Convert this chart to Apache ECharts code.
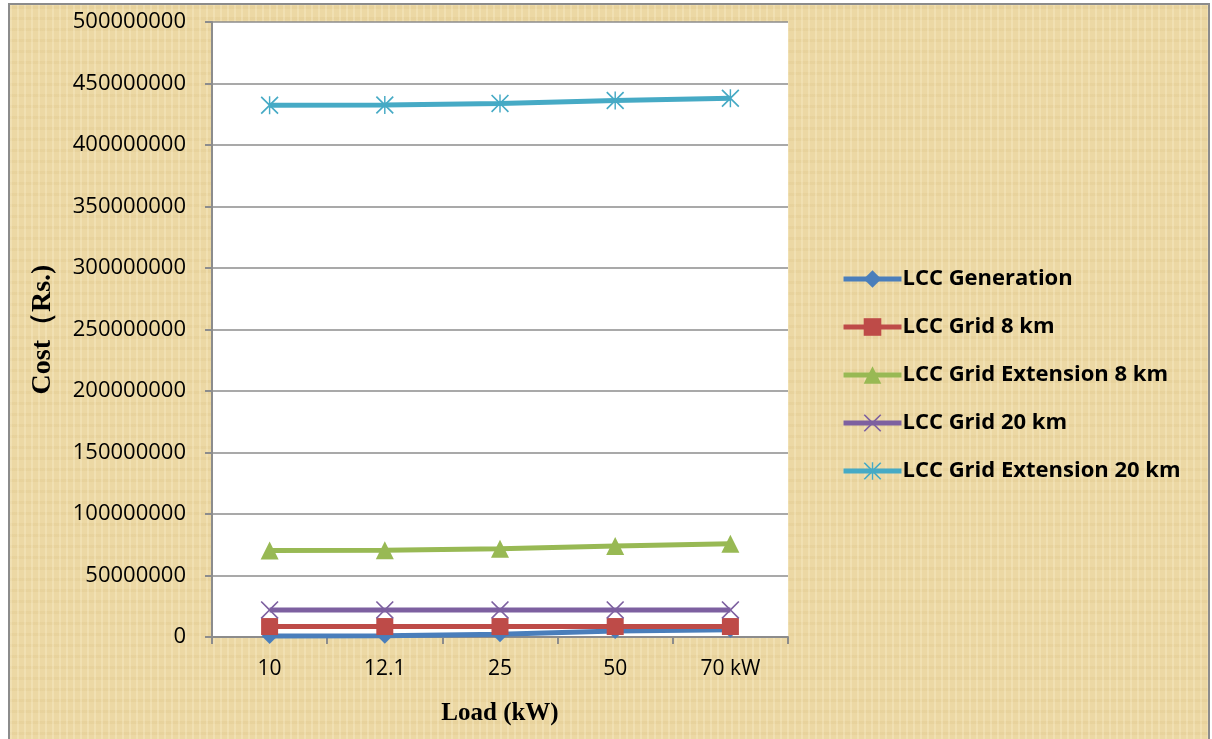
<!DOCTYPE html>
<html>
<head>
<meta charset="utf-8">
<script src="https://cdn.jsdelivr.net/npm/echarts@6/dist/echarts.min.js"></script>
<style>
  html, body { margin: 0; padding: 0; background: #ffffff; }
  #frame {
    position: absolute; left: 8px; top: 3px; width: 1202px; height: 745px;
    border: 2px solid #8c8c8c; box-sizing: border-box;
    background-color: #ecd8a4;
    background-image:
      repeating-linear-gradient(90deg, rgba(255,248,220,0.25) 0px, rgba(255,248,220,0.25) 2px, rgba(0,0,0,0) 2px, rgba(0,0,0,0) 7px),
      repeating-linear-gradient(0deg, rgba(200,170,100,0.12) 0px, rgba(200,170,100,0.12) 3px, rgba(0,0,0,0) 3px, rgba(0,0,0,0) 11px);
  }
  #chart { position: absolute; left: 0; top: 0; width: 1212px; height: 739px; }
</style>
</head>
<body>
<div id="frame"></div>
<div id="chart"></div>
<script>
// Load levels (x axis categories)
const loads = ['10', '12.1', '25', '50', '70 kW'];

// Life-cycle cost series, in Rs.
const lccGeneration = [800000, 1100000, 2200000, 4800000, 5800000];
const lccGrid8 = [8500000, 8500000, 8500000, 8500000, 8500000];
const lccGridExt8 = [70300000, 70600000, 71800000, 74000000, 75800000];
const lccGrid20 = [22000000, 22000000, 22000000, 22000000, 22000000];
const lccGridExt20 = [432300000, 432500000, 433800000, 436200000, 438000000];

// Y axis scale
const yMin = 0, yMax = 500000000, yStep = 50000000;

// Thin-armed marker shapes
const crossPath = 'path://M0,1.3L1.3,0L10,8.7L18.7,0L20,1.3L11.3,10L20,18.7L18.7,20L10,11.3L1.3,20L0,18.7L8.7,10Z';
const starPath = 'path://M0,1.3L1.3,0L10,8.7L18.7,0L20,1.3L11.3,10L20,18.7L18.7,20L10,11.3L1.3,20L0,18.7L8.7,10Z M9.2,0L10.8,0L10.8,20L9.2,20Z';

function lineSeries(name, data, color, symbol, size) {
  return {
    name: name, type: 'line', data: data,
    symbol: symbol, symbolSize: size, showSymbol: true,
    lineStyle: { color: color, width: 5 },
    itemStyle: { color: color, borderWidth: 0 },
    emphasis: { disabled: true },
    animation: false
  };
}

const chart = echarts.init(document.getElementById('chart'), null, { renderer: 'canvas' });
chart.setOption({
  backgroundColor: 'transparent',
  animation: false,
  grid: { left: 212, top: 22, right: 424, bottom: 102, show: true, backgroundColor: '#ffffff', borderWidth: 0 },
  legend: {
    orient: 'vertical', left: 836, top: 263,
    itemWidth: 58, itemHeight: 22, itemGap: 26,
    lineStyle: { width: 5 },
    textStyle: { fontFamily: 'Open Sans', fontWeight: 'bold', fontSize: 22, color: '#000000', padding: [0, 0, 0, -4] },
    data: ['LCC Generation', 'LCC Grid 8 km', 'LCC Grid Extension 8 km', 'LCC Grid 20 km', 'LCC Grid Extension 20 km']
  },
  xAxis: {
    type: 'category', data: loads, boundaryGap: true,
    name: 'Load (kW)', nameLocation: 'middle', nameGap: 64,
    nameTextStyle: { fontFamily: 'Liberation Serif', fontWeight: 'bold', fontSize: 25, color: '#000000' },
    axisLine: { lineStyle: { color: '#8c8c8c', width: 2 } },
    axisTick: { show: true, alignWithLabel: false, length: 7, lineStyle: { color: '#8c8c8c', width: 2 } },
    axisLabel: { fontFamily: 'Open Sans', fontSize: 21, color: '#000000', margin: 22 },
    splitLine: { show: false }
  },
  yAxis: {
    type: 'value', min: yMin, max: yMax, interval: yStep,
    name: 'Cost（Rs.)', nameLocation: 'middle', nameGap: 155, nameRotate: 90,
    nameTextStyle: { fontFamily: 'Liberation Serif', fontWeight: 'bold', fontSize: 28, color: '#000000' },
    axisLine: { show: true, lineStyle: { color: '#8c8c8c', width: 2 } },
    axisTick: { show: true, length: 7, lineStyle: { color: '#8c8c8c', width: 2 } },
    axisLabel: { fontFamily: 'Open Sans', fontSize: 22, color: '#000000', margin: 26, formatter: function (v) { return String(v); } },
    splitLine: { show: true, lineStyle: { color: '#8c8c8c', width: 1.5 } }
  },
  series: [
    lineSeries('LCC Generation', lccGeneration, '#4a7ebb', 'diamond', 16),
    lineSeries('LCC Grid 8 km', lccGrid8, '#be4b48', 'rect', 17),
    lineSeries('LCC Grid Extension 8 km', lccGridExt8, '#98b954', 'triangle', 18),
    lineSeries('LCC Grid 20 km', lccGrid20, '#7d60a0', crossPath, 18),
    lineSeries('LCC Grid Extension 20 km', lccGridExt20, '#46aac5', starPath, 18)
  ]
});
</script>
</body>
</html>
